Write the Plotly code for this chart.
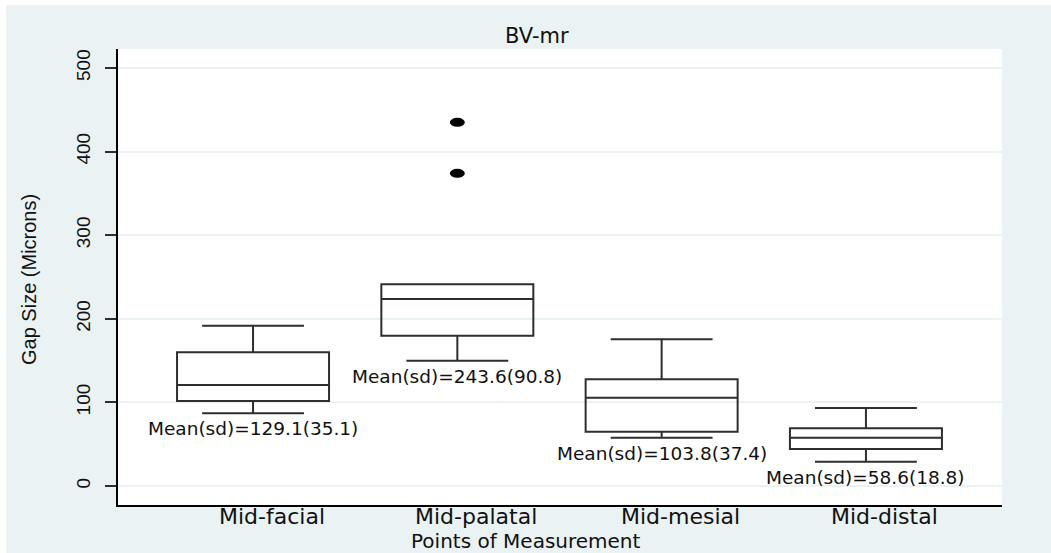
import plotly.graph_objects as go

categories = ["Mid-facial", "Mid-palatal", "Mid-mesial", "Mid-distal"]
lower_whisker = [87.0, 149.9, 57.8, 29.1]
q1 = [101.7, 179.8, 65.0, 44.3]
median = [120.8, 223.7, 105.6, 57.8]
q3 = [160.0, 241.3, 127.6, 69.0]
upper_whisker = [191.7, 241.3, 175.4, 93.3]
mean_sd_labels = ["Mean(sd)=129.1(35.1)", "Mean(sd)=243.6(90.8)",
                  "Mean(sd)=103.8(37.4)", "Mean(sd)=58.6(18.8)"]
outlier_group = [1, 1]
outlier_values = [435.0, 374.0]
y_ticks = [0, 100, 200, 300, 400, 500]

BG = "#EAF2F3"
LINE = "#2e2e2e"
TXT = "#111111"

W, H = 1051, 553
ML, MR, MT, MB = 118, 49, 49, 48
PW, PH = W - ML - MR, H - MT - MB

def px_x(px):
    return (px - ML) / PW

def px_y(py):
    return (H - MB - py) / PH

positions = list(range(len(categories)))

fig = go.Figure()
fig.add_trace(go.Box(
    x=positions,
    q1=q1, median=median, q3=q3,
    lowerfence=lower_whisker, upperfence=upper_whisker,
    width=0.744, whiskerwidth=0.67,
    fillcolor="rgba(255,255,255,0)",
    line=dict(color=LINE, width=2),
    boxpoints=False, showlegend=False, hoverinfo="skip",
))

# white strips at the left and top edges of the page (outside the plot area)
shapes = [
    dict(type="rect", xref="paper", yref="paper",
         x0=px_x(-5), x1=px_x(6), y0=px_y(H + 5), y1=px_y(-5),
         fillcolor="white", line=dict(width=0), layer="below"),
    dict(type="rect", xref="paper", yref="paper",
         x0=px_x(-5), x1=px_x(W + 5), y0=px_y(5), y1=px_y(-5),
         fillcolor="white", line=dict(width=0), layer="below"),
]
for g, v in zip(outlier_group, outlier_values):
    shapes.append(dict(type="circle", xref="x", yref="y",
                       xsizemode="pixel", ysizemode="pixel",
                       xanchor=positions[g], yanchor=v,
                       x0=-7.5, x1=7.5, y0=-4.5, y1=4.5,
                       fillcolor="black", line=dict(width=0)))

annotations = []
for p, lw, lab in zip(positions, lower_whisker, mean_sd_labels):
    annotations.append(dict(x=p, y=lw, xref="x", yref="y", text=lab,
                            showarrow=False, yanchor="top", yshift=-3,
                            font=dict(family="DejaVu Sans", size=18.5, color=TXT)))
for p, cat in zip(positions, categories):
    annotations.append(dict(x=p, y=px_y(516), xref="x", yref="paper", text=cat,
                            showarrow=False, yanchor="middle", xshift=19,
                            font=dict(family="DejaVu Sans", size=22, color=TXT)))
annotations.append(dict(x=px_x(537), y=px_y(36), xref="paper", yref="paper",
                        text="BV-mr", showarrow=False, yanchor="middle",
                        font=dict(family="DejaVu Sans", size=21, color=TXT)))
annotations.append(dict(x=px_x(526), y=px_y(541), xref="paper", yref="paper",
                        text="Points of Measurement", showarrow=False, yanchor="middle",
                        font=dict(family="DejaVu Sans", size=20, color=TXT)))
annotations.append(dict(x=px_x(29), y=px_y(280), xref="paper", yref="paper",
                        text="Gap Size (Microns)", showarrow=False, textangle=-90,
                        xanchor="center", yanchor="middle",
                        font=dict(family="Liberation Sans", size=20, color=TXT)))

fig.update_layout(
    width=W, height=H,
    margin=dict(l=ML, r=MR, t=MT, b=MB, autoexpand=False),
    paper_bgcolor=BG, plot_bgcolor="white",
    shapes=shapes, annotations=annotations,
    showlegend=False,
)
fig.update_xaxes(
    range=[-0.661, 3.666], tickvals=positions, showticklabels=False,
    showgrid=False, zeroline=False, showline=True, linecolor="black", linewidth=1.5,
    ticks="",
)
fig.update_yaxes(
    range=[-22.7, 522.7], tickvals=y_ticks,
    showgrid=True, gridcolor=BG, gridwidth=1.5, zeroline=False,
    showline=True, linecolor="black", linewidth=1.5,
    ticks="outside", ticklen=11, tickwidth=1.5, tickcolor=LINE,
    tickangle=-90, ticklabelstandoff=8,
    tickfont=dict(family="Liberation Sans", size=19, color=TXT),
)

fig.write_html("out.html", config={"displayModeBar": False})
